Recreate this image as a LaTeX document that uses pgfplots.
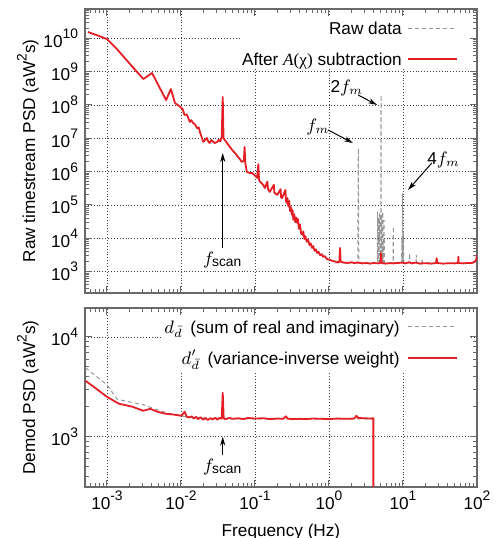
\documentclass[border=0pt]{standalone}
\usepackage[no-math]{fontspec}
\setmainfont{Liberation Sans}
\newfontfamily\serif{Liberation Serif}
\usepackage{pgfplots}
\pgfplotsset{compat=1.18}
\usetikzlibrary{calc,arrows.meta}

\definecolor{cRed}{RGB}{228,30,36}
\definecolor{cRaw}{RGB}{150,150,150}
\definecolor{cGrid}{RGB}{60,60,60}
\definecolor{cFrame}{RGB}{105,105,105}

\newcommand{\fs}{\fontsize{8.6}{10}\selectfont}
\newcommand{\sx}[1]{\raisebox{0.5em}{\fontsize{6.9}{7}\selectfont #1}}
\newcommand{\tk}[1]{10\sx{#1}}
\newcommand{\fscan}{$f_{\mbox{\fontsize{6.9}{7}\selectfont scan}}$}

\tikzset{
  rawline/.style={draw=cRaw, line width=0.5pt, dash pattern=on 2pt off 1.5pt},
  redline/.style={draw=cRed, line width=0.9pt, line join=round},
  annarrow/.style={-{Stealth[length=4.5pt,width=2.6pt]}, line width=0.5pt},
  keytext/.style={font=\fs, anchor=east, inner sep=0pt, text height=6.2pt, text depth=0pt},
}

\begin{document}
\begin{tikzpicture}

% ---- top: raw timestream PSD ------------------------------------------
\begin{axis}[
  name=top,
  scale only axis, width=196pt, height=142pt,
  xmode=log, ymode=log,
  xmin=5.05e-4, xmax=100,
  ymin=226, ymax=7.6e10,
  xtick={1e-3,1e-2,1e-1,1,10,100},
  minor xtick={6e-4,7e-4,8e-4,9e-4,2e-3,3e-3,4e-3,5e-3,6e-3,7e-3,8e-3,9e-3,
    2e-2,3e-2,4e-2,5e-2,6e-2,7e-2,8e-2,9e-2,0.2,0.3,0.4,0.5,0.6,0.7,0.8,0.9,
    2,3,4,5,6,7,8,9,20,30,40,50,60,70,80,90},
  xticklabels={},
  ytick={1e3,1e4,1e5,1e6,1e7,1e8,1e9,1e10},
  yticklabels={\tk{3},\tk{4},\tk{5},\tk{6},\tk{7},\tk{8},\tk{9},\tk{10}},
  minor ytick={3e2,4e2,5e2,6e2,7e2,8e2,9e2,
    2e3,3e3,4e3,5e3,6e3,7e3,8e3,9e3,2e4,3e4,4e4,5e4,6e4,7e4,8e4,9e4,
    2e5,3e5,4e5,5e5,6e5,7e5,8e5,9e5,2e6,3e6,4e6,5e6,6e6,7e6,8e6,9e6,
    2e7,3e7,4e7,5e7,6e7,7e7,8e7,9e7,2e8,3e8,4e8,5e8,6e8,7e8,8e8,9e8,
    2e9,3e9,4e9,5e9,6e9,7e9,8e9,9e9,2e10,3e10,4e10,5e10,6e10,7e10},
  xmajorgrids, ymajorgrids,
  grid style={cGrid, line width=0.35pt, dash pattern=on 0.45pt off 1pt},
  axis line style={cFrame, line width=0.6pt},
  every tick/.style={cFrame, line width=0.5pt},
  major tick length=3.5pt, minor tick length=1.8pt,
  tick align=inside,
  tick label style={font=\fs},
  label style={font=\fs},
  ylabel={Raw timestream PSD (aW\sx{2}s)},
  ylabel style={at={(rel axis cs:0,0.5)}, anchor=south, yshift=19.6pt},
]
\addplot[rawline] coordinates {
  (1.2,1800) (2.45,1800) (2.49,5.0e6) (2.53,1800) (4.5,1800) (4.55,6.3e4)
  (4.6,1800) (4.66,4.2e4) (4.72,1800) (4.85,5.6e4) (4.92,1800) (5.0,1800)
  (5.05,2.0e8) (5.1,1800) (5.17,5.0e4) (5.23,1800) (5.33,6.3e4) (5.4,1800)
  (5.55,3.5e4) (5.62,1800) (7.35,1800) (7.4,2.2e4) (7.45,1800) (9.6,1800)
  (9.66,1.1e4) (9.75,1800) (9.9,2.2e5) (9.98,1800) (10.15,1.6e4) (10.25,1800)
  (12.2,1800) (12.3,3500) (12.4,1800) (15,1800) (15.1,3200) (15.2,1800)
  (18.1,1800) (18.2,2500) (18.3,1800) (25,1800)
};
\addplot[redline] coordinates {
  (5.53e-4,1.55e10) (7.4e-4,1.23e10) (1e-3,9.5e9) (1.36e-3,4.8e9)
  (2.0e-3,1.8e9) (3.1e-3,6.0e8) (4.07e-3,9.1e8) (6.3e-3,1.4e8)
  (7.3e-3,3.0e8) (8.3e-3,1.15e8) (9.8e-3,8.7e7) (1.05e-2,7.6e7)
  (1.12e-2,5.0e7) (1.2e-2,5.2e7) (1.32e-2,3.1e7) (1.38e-2,3.5e7)
  (1.45e-2,2.9e7) (1.55e-2,2.6e7) (1.66e-2,2.0e7) (1.74e-2,2.1e7)
  (1.82e-2,1.45e7) (1.9e-2,1.1e7) (2.0e-2,7.8e6) (2.14e-2,9.1e6)
  (2.24e-2,1.02e7) (2.34e-2,7.9e6) (2.45e-2,7.2e6) (2.57e-2,8.9e6)
  (2.69e-2,8.0e6) (2.88e-2,7.2e6) (3.09e-2,7.8e6) (3.24e-2,8.9e6)
  (3.39e-2,8.0e6) (3.55e-2,1.1e7) (3.67e-2,1.74e8) (3.76e-2,1.02e7)
  (3.89e-2,8.9e6) (4.07e-2,7.9e6) (4.37e-2,6.3e6) (4.68e-2,5.2e6)
  (4.9e-2,4.5e6) (5.13e-2,4.0e6) (5.37e-2,3.6e6) (5.62e-2,3.2e6)
  (5.89e-2,2.75e6) (6.31e-2,2.3e6) (6.61e-2,1.95e6) (7.08e-2,2.1e6)
  (7.24e-2,5.5e6) (7.41e-2,1.8e6) (7.76e-2,9.8e5) (8.5e-2,9.1e5)
  (9.12e-2,9.1e5) (0.1,7.6e5) (0.107,6.5e5) (0.111,1.66e6) (0.1135,5.6e5)
  (0.1175,4.9e5) (0.129,4.0e5) (0.136,3.2e5) (0.147,5.0e5) (0.150,3.0e5)
  (0.158,2.45e5) (0.180,4.0e5) (0.183,2.3e5) (0.20,2.0e5) (0.222,2.95e5)
  (0.225,1.7e5) (0.232,1.6e5) (0.258,2.8e5) (0.262,1.3e5) (0.269,1.15e5)
  (0.275,1.6e5) (0.282,9.0e4) (0.29,1.3e5) (0.298,6.5e4) (0.305,8.5e4)
  (0.316,5.0e4) (0.322,7.0e4) (0.330,3.6e4) (0.340,5.2e4) (0.350,3.0e4)
  (0.360,4.2e4) (0.370,2.9e4) (0.380,3.8e4) (0.392,1.9e4) (0.405,2.6e4)
  (0.420,1.4e4) (0.437,1.26e4) (0.45,1.6e4) (0.465,9.5e3) (0.48,1.15e4)
  (0.50,7.8e3) (0.52,9.2e3) (0.545,6.2e3) (0.565,7.0e3) (0.59,5.1e3)
  (0.61,5.8e3) (0.64,4.2e3) (0.665,4.6e3) (0.69,3.6e3) (0.72,3.9e3)
  (0.76,3.1e3) (0.80,3.3e3) (0.83,2.75e3) (0.88,2.9e3) (0.93,2.4e3)
  (1.02,2.25e3) (1.1,2.1e3) (1.2,2.0e3) (1.32,1.9e3) (1.38,1.95e3)
  (1.41,5.1e3) (1.44,1.95e3) (1.6,1.85e3) (1.8,1.8e3) (2.0,1.9e3)
  (2.2,1.8e3) (2.49,1.85e3) (2.8,1.75e3) (3.2,1.8e3) (3.6,1.72e3)
  (4.0,1.8e3) (4.6,1.75e3) (4.95,1.8e3) (5.05,3.5e3) (5.15,1.8e3)
  (5.8,1.72e3) (6.5,1.78e3) (7.4,1.75e3) (8.5,1.8e3) (9.9,1.85e3)
  (10.8,1.75e3) (12.3,1.9e3) (13,1.75e3) (15.1,1.85e3) (17,1.72e3)
  (20,1.78e3) (24,1.72e3) (28,1.8e3) (28.5,2.5e3) (29,1.8e3) (35,1.72e3)
  (42,1.78e3) (50,1.75e3) (55.5,1.8e3) (56,2.8e3) (56.5,1.8e3)
  (65,1.75e3) (75,1.8e3) (85,1.8e3) (92,1.9e3) (97,2.2e3) (100,3.1e3)
};

% key (gnuplot style: white box over the grid, samples on the right)
\fill[white] (rel axis cs:0.40,0.789) rectangle (rel axis cs:0.982,0.975);
\node[keytext] at (rel axis cs:0.809,0.931) {Raw data};
\draw[rawline] (rel axis cs:0.824,0.931) -- (rel axis cs:0.949,0.931);
\node[keytext] at (rel axis cs:0.809,0.824) {After {\serif\textit{A}(χ)} subtraction};
\draw[redline] (rel axis cs:0.824,0.824) -- (rel axis cs:0.949,0.824);

% annotations
\draw[annarrow] (axis cs:0.0367,5.1e3) -- (axis cs:0.0367,3.6e6);
\node[font=\fs] at (axis cs:0.0367,2.2e3) {\fscan};
\node[font=\fs] at (axis cs:0.71,2.2e7) {$f_m$};
\draw[annarrow] (axis cs:0.968,1.78e7) -- (axis cs:2.11,7.2e6);
\node[font=\fs] at (axis cs:1.75,3.2e8) {2$f_m$};
\draw[annarrow] (axis cs:2.47,2.0e8) -- (axis cs:4.46,1.0e8);
\node[font=\fs] at (axis cs:35.5,2.2e6) {4$f_m$};
\draw[annarrow] (axis cs:24.5,1.8e6) -- (axis cs:11.7,2.8e5);
\end{axis}

% ---- bottom: demodulated PSD ------------------------------------------
\begin{axis}[
  at={($(top.south west)+(0,-7.5pt)$)}, anchor=north west,
  scale only axis, width=196pt, height=89.5pt,
  xmode=log, ymode=log,
  xmin=5.05e-4, xmax=100,
  ymin=313, ymax=1.95e4,
  xtick={1e-3,1e-2,1e-1,1,10,100},
  xticklabels={\tk{-3},\tk{-2},\tk{-1},\tk{0},\tk{1},\tk{2}},
  minor xtick={6e-4,7e-4,8e-4,9e-4,2e-3,3e-3,4e-3,5e-3,6e-3,7e-3,8e-3,9e-3,
    2e-2,3e-2,4e-2,5e-2,6e-2,7e-2,8e-2,9e-2,0.2,0.3,0.4,0.5,0.6,0.7,0.8,0.9,
    2,3,4,5,6,7,8,9,20,30,40,50,60,70,80,90},
  ytick={1e3,1e4},
  yticklabels={\tk{3},\tk{4}},
  minor ytick={4e2,5e2,6e2,7e2,8e2,9e2,2e3,3e3,4e3,5e3,6e3,7e3,8e3,9e3},
  xmajorgrids, ymajorgrids,
  grid style={cGrid, line width=0.35pt, dash pattern=on 0.45pt off 1pt},
  axis line style={cFrame, line width=0.6pt},
  every tick/.style={cFrame, line width=0.5pt},
  major tick length=3.5pt, minor tick length=1.8pt,
  tick align=inside,
  tick label style={font=\fs},
  xticklabel style={yshift=1.4pt},
  label style={font=\fs},
  xlabel={Frequency (Hz)},
  xlabel style={at={(rel axis cs:0.5,0)}, anchor=north, yshift=-14.8pt},
  ylabel={Demod PSD (aW\sx{2}s)},
  ylabel style={at={(rel axis cs:0,0.5)}, anchor=south, yshift=19.6pt},
]
\addplot[rawline] coordinates {
  (5.13e-4,4900) (1e-3,3310) (1.38e-3,2370) (3.09e-3,2090) (4.79e-3,1860)
  (7.9e-3,1660) (1.2e-2,1580) (3.5e-2,1510) (0.1,1510) (1,1510) (3.98,1510)
};
\addplot[redline] coordinates {
  (5.13e-4,3630) (6.9e-4,3090) (1e-3,2510) (1.45e-3,2140) (2.19e-3,2000)
  (3.09e-3,1820) (3.85e-3,1900) (4.79e-3,1780) (6.17e-3,1700) (8.3e-3,1660)
  (1.02e-2,1620) (1.12e-2,1780) (1.2e-2,1580) (1.3e-2,1560) (1.4e-2,1600)
  (1.5e-2,1520) (1.6e-2,1580) (1.7e-2,1500) (1.85e-2,1560) (2.0e-2,1480)
  (2.15e-2,1540) (2.3e-2,1470) (2.5e-2,1530) (2.7e-2,1490) (2.9e-2,1550)
  (3.1e-2,1480) (3.3e-2,1540) (3.55e-2,1520) (3.67e-2,2750) (3.78e-2,1530)
  (4.0e-2,1500) (4.5e-2,1540) (5.0e-2,1510) (6.0e-2,1530) (7e-2,1500)
  (8e-2,1540) (0.1,1520) (0.13,1530) (0.16,1500) (0.2,1520) (0.24,1510)
  (0.263,1600) (0.275,1520) (0.32,1500) (0.4,1510) (0.5,1500) (0.6,1520)
  (0.8,1510) (1.0,1500) (1.3,1520) (1.7,1510) (2.2,1520) (2.35,1620)
  (2.5,1540) (3.0,1530) (3.5,1520) (3.98,1530) (3.98,100)
};

% key
\fill[white] (rel axis cs:0.196,0.637) rectangle (rel axis cs:0.982,0.961);
\node[keytext] at (rel axis cs:0.804,0.894) {$d_{\bar{d}}$\, (sum of real and imaginary)};
\draw[rawline] (rel axis cs:0.824,0.894) -- (rel axis cs:0.949,0.894);
\node[keytext] at (rel axis cs:0.804,0.721) {$d'_{\bar{d}}$\, (variance-inverse weight)};
\draw[redline] (rel axis cs:0.824,0.721) -- (rel axis cs:0.949,0.721);

\draw[annarrow] (axis cs:0.0367,655) -- (axis cs:0.0367,1000);
\node[font=\fs] at (axis cs:0.0367,497) {\fscan};
\end{axis}

\pgfresetboundingbox
\path ($(top.north west)+(-42.5pt,4.5pt)$) rectangle ($(top.north west)+(209pt,-264.5pt)$);
\end{tikzpicture}
\end{document}
